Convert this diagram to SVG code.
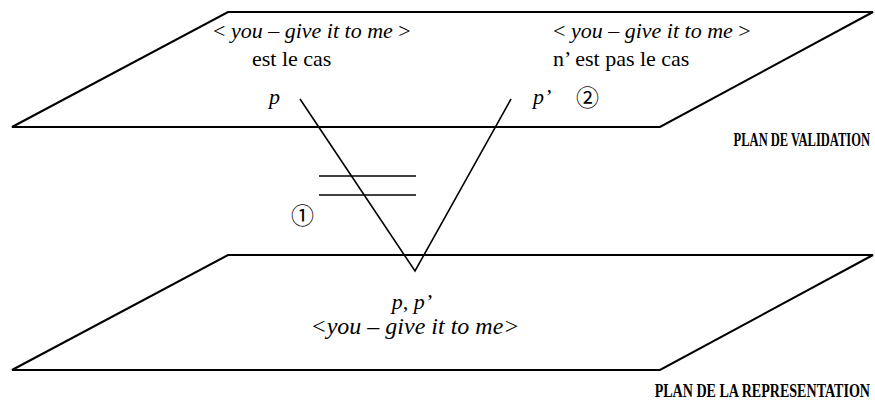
<svg xmlns="http://www.w3.org/2000/svg" width="875" height="401" viewBox="0 0 875 401">
<style>
.plane{fill:none;stroke:#000;stroke-width:2;stroke-linejoin:miter}
.ln{fill:none;stroke:#000;stroke-width:1.6}
.t{font-family:"Liberation Serif","Times New Roman",serif;font-size:22px;fill:#000}
.i{font-style:italic}
.b{font-family:"Liberation Serif","Times New Roman",serif;font-weight:bold;font-size:19px;fill:#000}
.c{font-family:"Noto Sans CJK JP","DejaVu Sans",sans-serif;font-size:23px;fill:#000}
</style>
<rect width="875" height="401" fill="#fff"/>
<g id="plan-validation">
<polygon class="plane" points="12,127 228,12 873,12 660,127"/>
<text class="b" transform="translate(870,146) scale(0.66,1)" text-anchor="end">PLAN DE VALIDATION</text>
</g>
<g id="plan-representation">
<polygon class="plane" points="12,370 228,255 873,255 660,370"/>
<text class="b" transform="translate(870,397) scale(0.74,1)" text-anchor="end">PLAN DE LA REPRESENTATION</text>
</g>
<g id="node-p">
<text class="t" x="213" y="38">&lt; <tspan class="i">you – give it to me</tspan> &gt;</text>
<text class="t" x="252" y="66">est le cas</text>
<text class="t i" x="269" y="104">p</text>
</g>
<g id="node-p-prime">
<text class="t" x="553" y="38">&lt; <tspan class="i">you – give it to me</tspan> &gt;</text>
<text class="t" x="553" y="66">n’ est pas le cas</text>
<text class="t i" x="533" y="104">p’</text>
<text class="c" x="587.5" y="106" text-anchor="middle">②</text>
</g>
<g id="node-pp">
<text class="t i" x="412" y="309" text-anchor="middle">p, p’</text>
<text class="t i" x="415" y="334" text-anchor="middle" style="font-size:24px">&lt;you – give it to me&gt;</text>
</g>
<g id="connectors">
<polyline class="ln" points="300,99 415,271 511,99"/>
<line class="ln" x1="319" y1="176" x2="416" y2="176"/>
<line class="ln" x1="319" y1="195" x2="416" y2="195"/>
<text class="c" x="302.5" y="224" text-anchor="middle">①</text>
</g>
</svg>
